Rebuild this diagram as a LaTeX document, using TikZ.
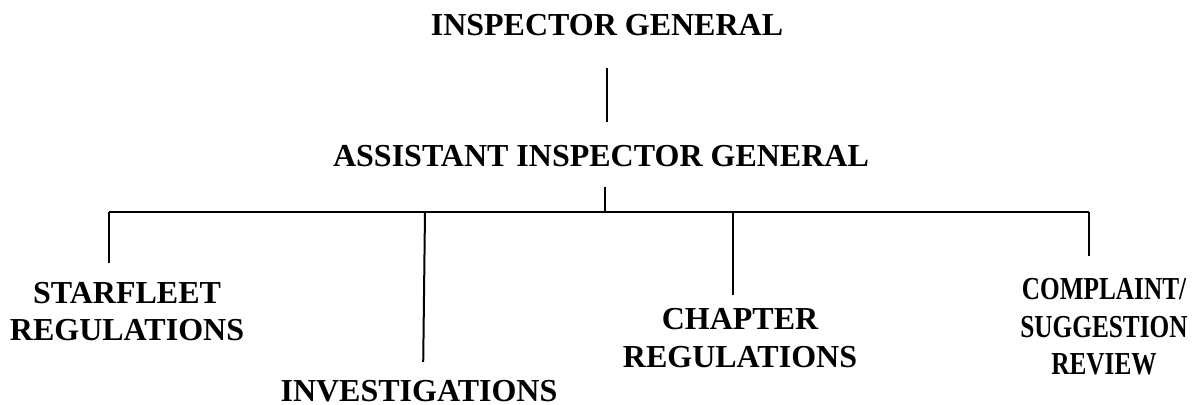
\documentclass[tikz,border=0pt]{standalone}
\usepackage{fontspec}
\setmainfont{Liberation Serif}
\newfontfamily\narrowserif[FakeStretch=0.79]{Liberation Serif}
\usepackage{tikz}
\usetikzlibrary{calc}
\usetikzlibrary{positioning}

\begin{document}
\begin{tikzpicture}[x=0.5pt,y=0.5pt,
        office/.style={anchor=north,inner sep=0pt,align=center,
            font=\fontsize{16pt}{18.75pt}\selectfont\bfseries},
        link/.style={line width=1pt}]
    \useasboundingbox (0,0) rectangle (1195,405);

    % offices
    \node[office] (ig) at (607,391.5) {INSPECTOR GENERAL};
    \node[office] (aig) at (601,260) {ASSISTANT INSPECTOR GENERAL};
    \node[office] (sr) at (127,123.3) {STARFLEET\\REGULATIONS};
    \node[office] (inv) at (419,25) {INVESTIGATIONS};
    \node[office] (cr) at (740,97) {CHAPTER\\REGULATIONS};
    \node[office,font=\fontsize{16pt}{18.75pt}\narrowserif\bfseries] (csr) at (1104,127) {COMPLAINT/\\SUGGESTION\\REVIEW};

    % junctions on the bar
    \coordinate (hub) at (605,193);
    \coordinate (jsr) at (109,193);
    \coordinate (jinv) at (425,193);
    \coordinate (jcr) at (733,193);
    \coordinate (jcsr) at (1089,193);

    \draw[link,shorten <=16pt,shorten >=11.5pt] (ig.south) -- (ig.south |- aig.north);
    \draw[link,shorten <=10pt] (aig.south -| hub) -- (hub);
    \draw[link] (jsr) -- (jcsr);
    \draw[link,shorten >=9.5pt] (jsr) -- (jsr |- sr.north);
    \draw[link,shorten >=9pt] (jinv) -- ([xshift=-1pt]jinv |- inv.north);
    \draw[link,shorten >=6.5pt] (jcr) -- (jcr |- cr.north);
    \draw[link,shorten >=11pt] (jcsr) -- (jcsr |- csr.north);
\end{tikzpicture}
\end{document}
